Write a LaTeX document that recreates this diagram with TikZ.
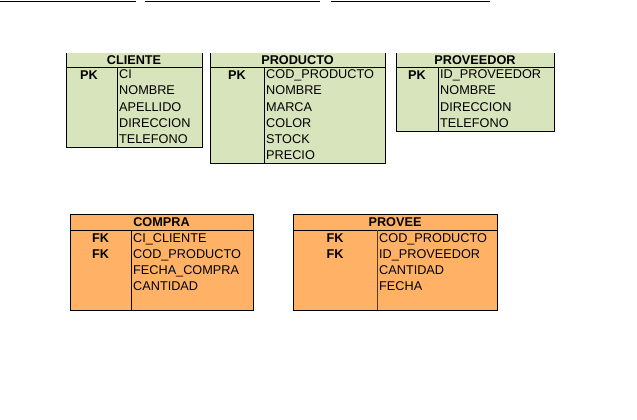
\documentclass[tikz,border=0pt]{standalone}
\usepackage{fontspec}
\setmainfont{Liberation Sans}
\usetikzlibrary{positioning}
\definecolor{tblgreen}{HTML}{D8E4BC}
\definecolor{tblorange}{HTML}{FFB266}
\definecolor{divbrown}{HTML}{5A3A1A}

\begin{document}
\begin{tikzpicture}[
  x=1pt, y=-1pt,
  font=\fontsize{12.7}{15}\selectfont,
  tbl/.style={inner sep=0pt, outer sep=0pt, anchor=north west},
  hdr/.style={font=\fontsize{12.7}{15}\selectfont\bfseries, anchor=base, inner sep=0pt},
  key/.style={hdr},
  field/.style={anchor=base west, inner sep=0pt},
  edge/.style={line width=0.8pt},
]
\useasboundingbox (0,0) rectangle (637,420);

% Clipped borders along the top edge.
\draw[edge] (0,1) -- (136,1);
\draw[edge] (145,1) -- (320,1);
\draw[edge] (331,1) -- (490,1);

% CLIENTE
\node[tbl, fill=tblgreen, minimum width=136pt, minimum height=94pt] (cliente) at (66,53) {};
\draw[edge] (cliente.north west) -- (cliente.south west) -- (cliente.south east) -- (cliente.north east);
\draw[edge] (66,67) -- (202,67);
\draw[edge] (117,67) -- (117,147);
\node[hdr] (cliente-t) at (134,64.5) {CLIENTE};
\node[key] (cliente-pk) at (89,79) {PK};
\foreach \f [count=\i] in {CI,NOMBRE,APELLIDO,DIRECCION,TELEFONO}
  \node[field] (cliente-\i) at (119,{62.7+16.1*\i}) {\f};

% PRODUCTO
\node[tbl, fill=tblgreen, minimum width=175pt, minimum height=110pt] (producto) at (210,53) {};
\draw[edge] (producto.north west) -- (producto.south west) -- (producto.south east) -- (producto.north east);
\draw[edge] (210,67) -- (385,67);
\draw[edge] (264,67) -- (264,163);
\node[hdr] (producto-t) at (297.5,64.5) {PRODUCTO};
\node[key] (producto-pk) at (237,79) {PK};
\foreach \f [count=\i] in {COD\_PRODUCTO,NOMBRE,MARCA,COLOR,STOCK,PRECIO}
  \node[field] (producto-\i) at (266,{62.7+16.1*\i}) {\f};

% PROVEEDOR
\node[tbl, fill=tblgreen, minimum width=158pt, minimum height=78pt] (proveedor) at (396,53) {};
\draw[edge] (proveedor.north west) -- (proveedor.south west) -- (proveedor.south east) -- (proveedor.north east);
\draw[edge] (396,67) -- (554,67);
\draw[edge] (438,67) -- (438,131);
\node[hdr] (proveedor-t) at (475,64.5) {PROVEEDOR};
\node[key] (proveedor-pk) at (417,79) {PK};
\foreach \f [count=\i] in {ID\_PROVEEDOR,NOMBRE,DIRECCION,TELEFONO}
  \node[field] (proveedor-\i) at (440,{62.7+16.1*\i}) {\f};

% COMPRA
\node[tbl, draw, edge, fill=tblorange, minimum width=183pt, minimum height=96pt] (compra) at (70,214) {};
\draw[edge] (70,230) -- (253,230);
\draw[edge] (131,230) -- (131,310);
\node[hdr] (compra-t) at (161.5,226.5) {COMPRA};
\node[key] (compra-fk1) at (100.5,242.5) {FK};
\node[key] (compra-fk2) at (100.5,258.5) {FK};
\foreach \f [count=\i] in {CI\_CLIENTE,COD\_PRODUCTO,FECHA\_COMPRA,CANTIDAD}
  \node[field] (compra-\i) at (133,{226.5+16*\i}) {\f};

% PROVEE
\node[tbl, draw, edge, fill=tblorange, minimum width=204pt, minimum height=96pt] (provee) at (293,214) {};
\draw[edge] (293,230) -- (497,230);
\draw[edge, divbrown] (377,230) -- (377,310);
\node[hdr] (provee-t) at (395,226.5) {PROVEE};
\node[key] (provee-fk1) at (335,242.5) {FK};
\node[key] (provee-fk2) at (335,258.5) {FK};
\foreach \f [count=\i] in {COD\_PRODUCTO,ID\_PROVEEDOR,CANTIDAD,FECHA}
  \node[field] (provee-\i) at (379,{226.5+16*\i}) {\f};

\end{tikzpicture}
\end{document}
